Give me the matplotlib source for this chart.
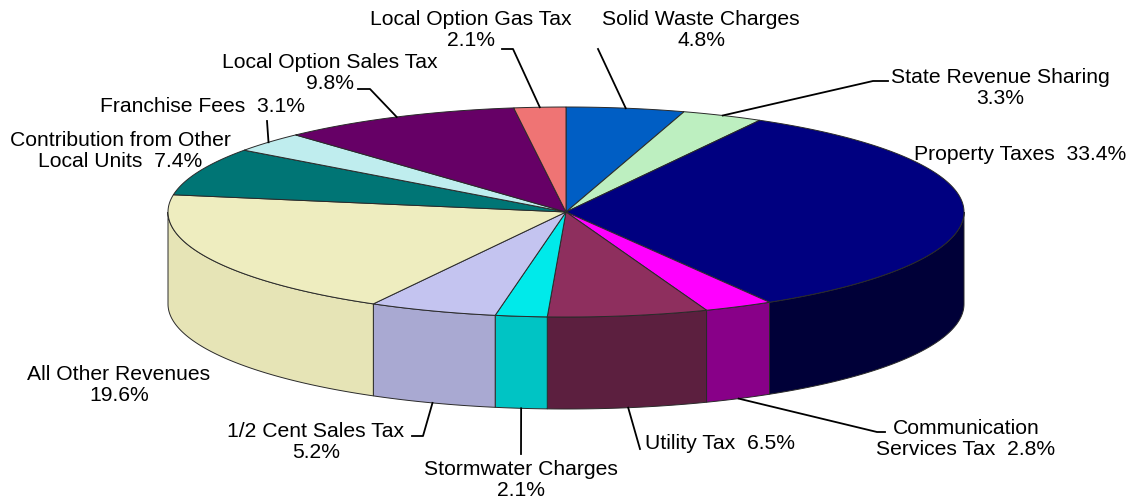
import numpy as np
import matplotlib.pyplot as plt
from matplotlib.patches import Polygon

plt.rcParams['font.family'] = ['Liberation Sans', 'DejaVu Sans']

# slices, clockwise from 12 o'clock
names = [
    'Solid Waste Charges', 'State Revenue Sharing', 'Property Taxes',
    'Communication\nServices Tax', 'Utility Tax', 'Stormwater Charges',
    '1/2 Cent Sales Tax', 'All Other Revenues',
    'Contribution from Other\nLocal Units', 'Franchise Fees',
    'Local Option Sales Tax', 'Local Option Gas Tax',
]
values = [4.8, 3.3, 33.4, 2.8, 6.5, 2.1, 5.2, 19.6, 7.4, 3.1, 9.8, 2.1]
seps = ['\n', '\n', '  ', '  ', '  ', '\n', '\n', '\n', '  ', '  ', '\n', '\n']
top_colors = ['#005ec4', '#bdefc0', '#000080', '#ff00ff', '#8e2f5e', '#00eaea',
              '#c4c4f0', '#eeedbf', '#007575', '#bfedee', '#660066', '#ef7474']
side_colors = ['#004a9a', '#9ccf9f', '#000038', '#880088', '#5c1f3f', '#00c4c4',
               '#a9a9d2', '#e6e4b6', '#005050', '#a0d0d0', '#440044', '#c05858']

# label anchor (text centre) and the elbow points of each leader line
label_pos = [(701, 30), (1000, 88), (1020, 155), (966, 439), (720, 444), (521, 480),
             (316, 442), (119, 385), (120, 151), (203, 107), (330, 73), (471, 30)]
leaders = [
    [(598, 50)],
    [(888, 82), (873, 82)],
    None,
    [(885, 433), (877, 433)],
    [(640, 450)],
    [(521, 455)],
    [(412, 437), (423, 437)],
    None,
    None,
    [(267, 122)],
    [(358, 90), (370, 90)],
    [(502, 50), (513, 50)],
]

cx, cy, rx, ry, depth = 566, 213, 398, 105, 92
edge = '#2a2a2a'


def rim(t, dy=0.0):
    t = np.radians(t)
    return cx + rx * np.sin(t), cy - ry * np.cos(t) + dy


fig = plt.figure(figsize=(11.31, 5.02), dpi=100)
ax = fig.add_axes([0, 0, 1, 1])
ax.set_xlim(0, 1131)
ax.set_ylim(502, 0)
ax.axis('off')

bounds = np.concatenate([[0], np.cumsum(values)]) / np.sum(values) * 360

# sides (only front half visible)
for i in range(len(values)):
    lo, hi = max(bounds[i], 90), min(bounds[i + 1], 270)
    if hi <= lo:
        continue
    th = np.linspace(lo, hi, 80)
    xt, yt = rim(th)
    xb, yb = rim(th[::-1], depth)
    pts = np.column_stack([np.concatenate([xt, xb]), np.concatenate([yt, yb])])
    ax.add_patch(Polygon(pts, closed=True, facecolor=side_colors[i],
                         edgecolor=edge, lw=0.7, zorder=1))

# top surface
for i in range(len(values)):
    th = np.linspace(bounds[i], bounds[i + 1], 120)
    xt, yt = rim(th)
    pts = np.column_stack([np.concatenate([[cx], xt]), np.concatenate([[cy], yt])])
    ax.add_patch(Polygon(pts, closed=True, facecolor=top_colors[i],
                         edgecolor=edge, lw=0.7, zorder=2))

# labels and leader lines
for i, name in enumerate(names):
    txt = name + seps[i] + f'{values[i]:.1f}%'
    ax.text(label_pos[i][0], label_pos[i][1], txt, ha='center', va='center',
            fontsize=15.2, color='black', multialignment='center',
            linespacing=1.15, zorder=4)
    if leaders[i] is None:
        continue
    mid = (bounds[i] + bounds[i + 1]) / 2
    if 90 < mid < 270:
        ex, ey = rim(mid, depth)
    else:
        ex, ey = rim(mid)
    px = [p[0] for p in leaders[i]] + [ex]
    py = [p[1] for p in leaders[i]] + [ey]
    ax.plot(px, py, color='black', lw=1.3, zorder=3)

fig.savefig('out.png', dpi=100)
